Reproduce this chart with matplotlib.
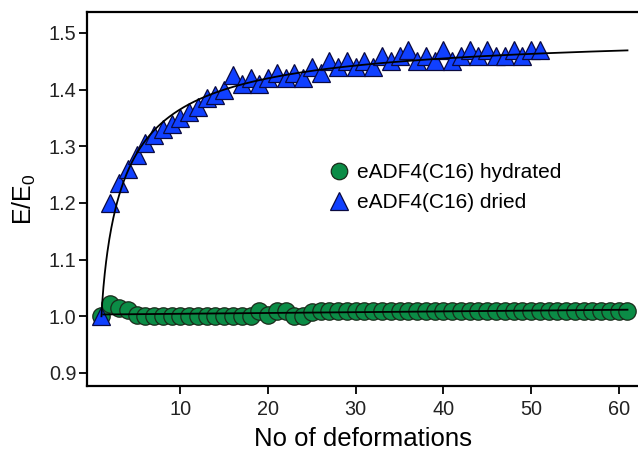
import numpy as np
import matplotlib
matplotlib.use("Agg")
import matplotlib.pyplot as plt

plt.rcParams['font.family'] = ['Liberation Sans', 'DejaVu Sans']
plt.rcParams['mathtext.fontset'] = 'custom'
plt.rcParams['mathtext.rm'] = 'Liberation Sans'
plt.rcParams['mathtext.it'] = 'Liberation Sans:italic'
plt.rcParams['mathtext.default'] = 'regular'

# ---- data ----
hydrated_x = list(range(1, 62))
hydrated_y = [1.000, 1.022, 1.015, 1.012, 1.003, 1.000, 1.000, 1.000, 1.000, 1.000,
              1.000, 1.000, 1.000, 1.000, 1.000, 1.000, 1.000, 1.000, 1.010, 1.002,
              1.010, 1.010, 1.000, 1.000, 1.008, 1.010, 1.010, 1.010, 1.010, 1.010,
              1.010, 1.010, 1.010, 1.010, 1.010, 1.010, 1.010, 1.010, 1.010, 1.010,
              1.010, 1.010, 1.010, 1.010, 1.010, 1.010, 1.010, 1.010, 1.010, 1.010,
              1.010, 1.010, 1.010, 1.010, 1.010, 1.010, 1.010, 1.010, 1.010, 1.010,
              1.010]

dried_x = list(range(1, 52))
dried_y = [1.000, 1.200, 1.235, 1.260, 1.285, 1.305, 1.320, 1.330, 1.340, 1.350,
           1.360, 1.370, 1.385, 1.390, 1.400, 1.425, 1.410, 1.420, 1.410, 1.420,
           1.430, 1.420, 1.430, 1.420, 1.440, 1.430, 1.450, 1.440, 1.450, 1.440,
           1.450, 1.440, 1.460, 1.450, 1.460, 1.470, 1.450, 1.460, 1.450, 1.470,
           1.450, 1.460, 1.470, 1.460, 1.470, 1.460, 1.460, 1.470, 1.460, 1.470,
           1.470]

# fit parameters (saturating model for dried sample)
fit_A = 0.505
fit_K = 2.9
fit_p = 0.85
fit_x_range = (1, 61)

x_ticks = [10, 20, 30, 40, 50, 60]
y_ticks = [0.9, 1.0, 1.1, 1.2, 1.3, 1.4, 1.5]

labels = ['eADF4(C16) hydrated', 'eADF4(C16) dried']
green = '#0b8c46'
blue = '#1040ff'

# ---- figure ----
fig = plt.figure(figsize=(6.38, 4.5), dpi=100)
ax = fig.add_axes([87/638, 1-386/450, (638-87)/638, (386-12)/450])

h1, = ax.plot(hydrated_x, hydrated_y, linestyle='none', marker='o', markersize=12.5,
              markerfacecolor=green, markeredgecolor='#1a2a1a', markeredgewidth=0.9,
              zorder=3, label=labels[0])
h2, = ax.plot(dried_x, dried_y, linestyle='none', marker='^', markersize=13,
              markerfacecolor=blue, markeredgecolor='#0a0a40', markeredgewidth=0.9,
              zorder=4, label=labels[1])

# fits
xf = np.linspace(fit_x_range[0], fit_x_range[1], 800)
d = xf - 1
yf = 1 + fit_A * d**fit_p / (fit_K**fit_p + d**fit_p)
ax.plot(xf, yf, color='black', lw=1.3, zorder=5)

coef = np.polyfit(hydrated_x, hydrated_y, 1)
xl = np.array([1.2, 61])
ax.plot(xl, np.polyval(coef, xl), color='black', lw=1.3, zorder=5)

ax.set_xlim(-0.65, 62.2)
ax.set_ylim(0.877, 1.537)
ax.set_xticks(x_ticks)
ax.set_yticks(y_ticks)
ax.set_yticklabels([f'{v:.1f}' for v in y_ticks])

for s in ['left', 'top', 'bottom']:
    ax.spines[s].set_linewidth(1.6)
ax.spines['right'].set_visible(False)
ax.tick_params(axis='both', direction='out', length=6, width=1.3, labelsize=14.3,
               colors='black', labelcolor='#222222')
ax.tick_params(axis='y', pad=1.5)
ax.tick_params(axis='x', pad=4)

ax.set_xlabel('No of deformations', fontsize=18.5, labelpad=6)
ax.set_ylabel('E/E$_0$', fontsize=18, labelpad=8)

leg = ax.legend(handles=[h1, h2], loc='upper left', bbox_to_anchor=(329/638, 1-163/450),
                bbox_transform=fig.transFigure, frameon=False, fontsize=15,
                handlelength=1.0, handletextpad=0.35, labelspacing=0.55,
                borderaxespad=0, borderpad=0, markerscale=0.95)

fig.savefig('out.png', dpi=100)
